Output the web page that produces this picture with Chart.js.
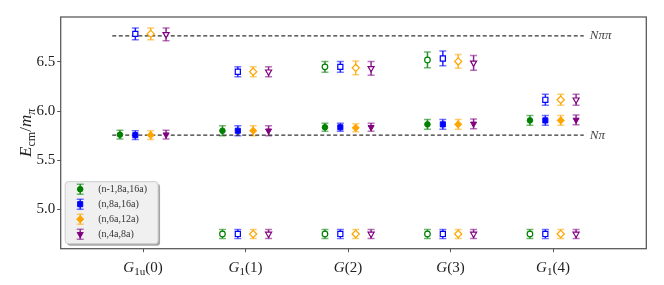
<!DOCTYPE html>
<html>
<head>
<meta charset="utf-8">
<script src="https://cdn.jsdelivr.net/npm/chart.js@4.4.0/dist/chart.umd.min.js"></script>
<style>
  html, body { margin: 0; padding: 0; background: #fff; }
  canvas { display: block; }
</style>
</head>
<body>
<canvas id="levelChart" width="664" height="285"></canvas>
<script>
// irreps on the x axis: base letter, subscript, momentum
const irrepBase = ['G', 'G', 'G', 'G', 'G'];
const irrepSub = ['1u', '1', '', '', '1'];
const irrepArg = ['(0)', '(1)', '(2)', '(3)', '(4)'];

const seriesNames = ['(n-1,8a,16a)', '(n,8a,16a)', '(n,6a,12a)', '(n,4a,8a)'];
const seriesColors = ['#008000', '#0000ff', '#ffa500', '#800080'];

// y ticks
const yTickValues = [5.0, 5.5, 6.0, 6.5];

// thresholds
const nPiLevel = 5.755;
const nPiPiLevel = 6.765;

// lowest level (open markers), one row per series
const lowLevel = [
    [null, 4.75, 4.75, 4.75, 4.75],
    [null, 4.75, 4.75, 4.75, 4.75],
    [null, 4.75, 4.75, 4.75, 4.75],
    [null, 4.75, 4.75, 4.75, 4.75],
];
const lowErr = [
    [null, 0.045, 0.045, 0.045, 0.045],
    [null, 0.045, 0.045, 0.045, 0.045],
    [null, 0.045, 0.045, 0.045, 0.045],
    [null, 0.045, 0.045, 0.045, 0.045],
];

// N pi like level (filled markers)
const midLevel = [
    [5.76, 5.80, 5.835, 5.865, 5.905],
    [5.755, 5.80, 5.835, 5.865, 5.905],
    [5.755, 5.80, 5.83, 5.865, 5.905],
    [5.76, 5.80, 5.835, 5.87, 5.91],
];
const midErr = [
    [0.045, 0.05, 0.04, 0.05, 0.05],
    [0.045, 0.05, 0.04, 0.05, 0.05],
    [0.045, 0.05, 0.04, 0.05, 0.05],
    [0.045, 0.05, 0.04, 0.05, 0.05],
];

// upper level (open markers)
const highLevel = [
    [null, null, 6.45, 6.52, null],
    [6.785, 6.40, 6.45, 6.535, 6.115],
    [6.785, 6.40, 6.44, 6.505, 6.115],
    [6.78, 6.40, 6.435, 6.49, 6.115],
];
const highErr = [
    [null, null, 0.055, 0.08, null],
    [0.06, 0.05, 0.055, 0.075, 0.055],
    [0.06, 0.05, 0.07, 0.07, 0.055],
    [0.065, 0.05, 0.07, 0.075, 0.055],
];

const seriesOffset = [-0.225, -0.075, 0.075, 0.225];
const markerStyle = [
    { pointStyle: 'circle', radius: 2.8, rotation: 0 },
    { pointStyle: 'rect', radius: 3.6, rotation: 0 },
    { pointStyle: 'rectRot', radius: 3.6, rotation: 0 },
    { pointStyle: 'triangle', radius: 3.5, rotation: 180 },
];

const serif = '"Liberation Serif", "DejaVu Serif", serif';

const makePoints = (vals, errs, s) =>
    vals.map((v, k) => ({ x: k + seriesOffset[s], y: v, e: errs[k] }))
        .filter(p => p.y !== null);

const datasets = [];
const levels = [[lowLevel, lowErr, true], [midLevel, midErr, false], [highLevel, highErr, true]];
levels.forEach(([vals, errs, open]) => {
    seriesNames.forEach((name, s) => {
        datasets.push({
            label: name,
            data: makePoints(vals[s], errs[s], s),
            showLine: false,
            order: 0,
            pointStyle: markerStyle[s].pointStyle,
            pointRadius: markerStyle[s].radius,
            pointRotation: markerStyle[s].rotation,
            pointBackgroundColor: open ? '#ffffff' : seriesColors[s],
            pointBorderColor: seriesColors[s],
            pointBorderWidth: open ? 1.2 : 1,
            errColor: seriesColors[s],
        });
    });
});

const lineStart = -0.3, lineEnd = 4.3;
[nPiLevel, nPiPiLevel].forEach(lv => {
    datasets.push({
        type: 'line',
        data: [{ x: lineStart, y: lv }, { x: lineEnd, y: lv }],
        borderColor: '#333333',
        borderWidth: 1.3,
        borderDash: [4, 2.5],
        pointRadius: 0,
        order: 10,
    });
});

const hexA = (hex, a) => {
    const n = parseInt(hex.slice(1), 16);
    return `rgba(${n >> 16},${(n >> 8) & 255},${n & 255},${a})`;
};

const drawErr = (ctx, x, y0, y1, color) => {
    ctx.save();
    ctx.lineWidth = 1.5;
    ctx.strokeStyle = hexA(color, 0.85);
    ctx.beginPath(); ctx.moveTo(x, y0); ctx.lineTo(x, y1); ctx.stroke();
    ctx.strokeStyle = hexA(color, 0.55);
    ctx.beginPath();
    ctx.moveTo(x - 3.5, y0); ctx.lineTo(x + 3.5, y0);
    ctx.moveTo(x - 3.5, y1); ctx.lineTo(x + 3.5, y1);
    ctx.stroke();
    ctx.restore();
};

const errorBars = {
    id: 'errorBars',
    beforeDatasetsDraw(chart) {
        const ctx = chart.ctx;
        const xs = chart.scales.x, ys = chart.scales.y;
        chart.data.datasets.forEach(ds => {
            if (!ds.errColor) return;
            ds.data.forEach(p => {
                const x = xs.getPixelForValue(p.x);
                drawErr(ctx, x, ys.getPixelForValue(p.y + p.e), ys.getPixelForValue(p.y - p.e), ds.errColor);
            });
        });
    }
};

const decorations = {
    id: 'decorations',
    afterDraw(chart) {
        const ctx = chart.ctx;
        const a = chart.chartArea;
        const xs = chart.scales.x, ys = chart.scales.y;
        ctx.save();

        // frame
        ctx.strokeStyle = '#555555';
        ctx.lineWidth = 1.25;
        ctx.strokeRect(a.left, a.top, a.right - a.left, a.bottom - a.top);

        // threshold labels
        ctx.fillStyle = '#444444';
        ctx.font = `italic 13px ${serif}`;
        ctx.textBaseline = 'middle';
        ctx.textAlign = 'left';
        const lx = xs.getPixelForValue(lineEnd) + 6;
        ctx.fillText('Nππ', lx, ys.getPixelForValue(nPiPiLevel));
        ctx.fillText('Nπ', lx, ys.getPixelForValue(nPiLevel));

        // x tick labels with subscripts
        ctx.fillStyle = '#222222';
        ctx.textBaseline = 'alphabetic';
        const baseY = a.bottom + 23;
        irrepBase.forEach((b, k) => {
            const parts = [
                { t: b, f: `italic 15px ${serif}`, dy: 0 },
                { t: irrepSub[k], f: `11px ${serif}`, dy: 3.5 },
                { t: irrepArg[k], f: `15px ${serif}`, dy: 0 },
            ];
            let w = 0;
            parts.forEach(p => { ctx.font = p.f; p.w = ctx.measureText(p.t).width; w += p.w; });
            let x = xs.getPixelForValue(k) - w / 2;
            parts.forEach(p => { ctx.font = p.f; ctx.fillText(p.t, x, baseY + p.dy); x += p.w; });
        });

        // y axis title E_cm / m_pi
        ctx.save();
        ctx.translate(31, (a.top + a.bottom) / 2);
        ctx.rotate(-Math.PI / 2);
        const tparts = [
            { t: 'E', f: `italic 17px ${serif}`, dy: 0 },
            { t: 'cm', f: `12px ${serif}`, dy: 4 },
            { t: '/', f: `17px ${serif}`, dy: 0 },
            { t: 'm', f: `italic 17px ${serif}`, dy: 0 },
            { t: 'π', f: `italic 12px ${serif}`, dy: 4 },
        ];
        let tw = 0;
        tparts.forEach(p => { ctx.font = p.f; p.w = ctx.measureText(p.t).width; tw += p.w; });
        let tx = -tw / 2;
        tparts.forEach(p => { ctx.font = p.f; ctx.fillText(p.t, tx, p.dy); tx += p.w; });
        ctx.restore();

        // legend
        ctx.font = `10px ${serif}`;
        let maxW = 0;
        seriesNames.forEach(n => { maxW = Math.max(maxW, ctx.measureText(n).width); });
        const bx = a.left + 4.5, by = a.bottom - 67;
        const bw = 38 + maxW + 6, bh = 62;
        ctx.fillStyle = 'rgba(0,0,0,0.35)';
        ctx.beginPath(); ctx.roundRect(bx + 2, by + 2, bw, bh, 3); ctx.fill();
        ctx.fillStyle = '#f0f0f0';
        ctx.strokeStyle = '#cccccc';
        ctx.lineWidth = 1;
        ctx.beginPath(); ctx.roundRect(bx, by, bw, bh, 3); ctx.fill(); ctx.stroke();
        seriesNames.forEach((n, s) => {
            const cy = by + 7.5 + s * 15;
            const cx = bx + 15;
            drawErr(ctx, cx, cy - 5, cy + 5, seriesColors[s]);
            ctx.fillStyle = seriesColors[s];
            ctx.strokeStyle = seriesColors[s];
            ctx.lineWidth = 1;
            Chart.helpers.drawPoint(ctx, {
                pointStyle: markerStyle[s].pointStyle,
                radius: markerStyle[s].radius,
                rotation: markerStyle[s].rotation,
                borderWidth: 1,
            }, cx, cy);
            ctx.fillStyle = '#333333';
            ctx.font = `10px ${serif}`;
            ctx.textBaseline = 'middle';
            ctx.fillText(n, bx + 33, cy + 0.5);
        });
        ctx.restore();
    }
};

const levelChart = new Chart(document.getElementById('levelChart'), {
    type: 'scatter',
    data: { datasets },
    options: {
        responsive: false,
        animation: false,
        devicePixelRatio: 1,
        layout: { padding: { top: 17, right: 17.7, left: 0, bottom: 0 } },
        plugins: { legend: { display: false }, tooltip: { enabled: false } },
        scales: {
            x: {
                type: 'linear',
                min: -0.803,
                max: 4.91,
                afterBuildTicks: s => { s.ticks = irrepBase.map((_, k) => ({ value: k })); },
                afterFit: s => { s.height = 36.3; },
                ticks: { display: false },
                border: { display: false },
                grid: { drawOnChartArea: false, drawTicks: true, tickLength: 3.5, color: '#555555', lineWidth: 1 },
            },
            y: {
                type: 'linear',
                min: 4.6,
                max: 6.957,
                afterBuildTicks: s => { s.ticks = yTickValues.map(v => ({ value: v })); },
                afterFit: s => { s.width = 60.7; },
                ticks: {
                    callback: v => v.toFixed(1),
                    font: { family: serif, size: 15 },
                    color: '#222222',
                    padding: 2,
                },
                border: { display: false },
                grid: { drawOnChartArea: false, drawTicks: true, tickLength: 3.5, color: '#555555', lineWidth: 1 },
            },
        },
    },
    plugins: [errorBars, decorations],
});
</script>
</body>
</html>
